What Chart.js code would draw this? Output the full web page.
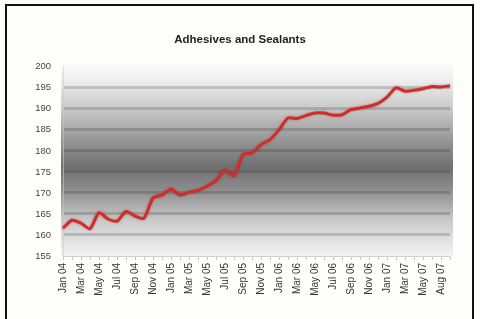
<!DOCTYPE html>
<html>
<head>
<meta charset="utf-8">
<script src="https://cdn.jsdelivr.net/npm/chart.js@4.4.1/dist/chart.umd.min.js"></script>
<style>
  html, body { margin: 0; padding: 0; background: #ffffff; }
  #wrap { position: relative; width: 480px; height: 319px; overflow: hidden; background: #fefefa; }
  #frame { position: absolute; left: 5px; top: 4px; width: 469px; height: 330px; border: 2px solid #111; box-sizing: border-box; pointer-events: none; }
  canvas { position: absolute; left: 0; top: 0; }
</style>
</head>
<body>
<div id="wrap">
  <canvas id="c" width="480" height="319"></canvas>
  <div id="frame"></div>
</div>
<script>
const title = 'Adhesives and Sealants';

const categories = [
  'Jan 04','Feb 04','Mar 04','Apr 04','May 04','Jun 04','Jul 04','Aug 04','Sep 04','Oct 04','Nov 04','Dec 04',
  'Jan 05','Feb 05','Mar 05','Apr 05','May 05','Jun 05','Jul 05','Aug 05','Sep 05','Oct 05','Nov 05','Dec 05',
  'Jan 06','Feb 06','Mar 06','Apr 06','May 06','Jun 06','Jul 06','Aug 06','Sep 06','Oct 06','Nov 06','Dec 06',
  'Jan 07','Feb 07','Mar 07','Apr 07','May 07','Jun 07','Jul 07','Aug 07'
];

const tickLabels = [
  'Jan 04','Mar 04','May 04','Jul 04','Sep 04','Nov 04',
  'Jan 05','Mar 05','May 05','Jul 05','Sep 05','Nov 05',
  'Jan 06','Mar 06','May 06','Jul 06','Sep 06','Nov 06',
  'Jan 07','Mar 07','May 07','Aug 07'
];

const values = [
  161.6, 163.5, 162.8, 161.5, 165.3, 163.8, 163.3, 165.6, 164.5, 164.0,
  168.8, 169.5, 170.9, 169.5, 170.2, 170.6, 171.6, 172.9, 175.4, 174.1,
  179.1, 179.5, 181.5, 182.7, 185.0, 187.8, 187.7, 188.4, 189.0, 189.0,
  188.5, 188.6, 189.8, 190.2, 190.6, 191.3, 192.8, 195.0, 194.2, 194.4,
  194.8, 195.3, 195.2, 195.5
];

const yMin = 155, yMax = 200, yStep = 5;

const plotBg = {
  id: 'plotBg',
  beforeDraw(chart) {
    const {ctx, chartArea: a} = chart;
    const left = a.left - 2, right = a.right + 3;
    const g = ctx.createLinearGradient(0, a.top - 4, 0, a.bottom);
    g.addColorStop(0.00, '#fdfdfb');
    g.addColorStop(0.10, '#ececec');
    g.addColorStop(0.25, '#c6c6c6');
    g.addColorStop(0.42, '#909090');
    g.addColorStop(0.54, '#707070');
    g.addColorStop(0.66, '#8e8e8e');
    g.addColorStop(0.82, '#cbcbcb');
    g.addColorStop(1.00, '#f3f3f3');
    ctx.save();
    ctx.fillStyle = g;
    ctx.fillRect(left, a.top - 4, right - left, a.bottom - a.top + 4);
    ctx.restore();
  },
  beforeDatasetsDraw(chart) {
    const ctx = chart.ctx;
    ctx.save();
    ctx.shadowColor = 'rgba(120,0,0,0.35)';
    ctx.shadowBlur = 3;
  },
  afterDatasetsDraw(chart) {
    chart.ctx.restore();
  }
};

new Chart(document.getElementById('c'), {
  type: 'line',
  data: {
    labels: categories,
    datasets: [{
      data: values,
      borderColor: '#d42a2a',
      borderWidth: 3,
      pointRadius: 0,
      tension: 0.25,
      fill: false
    }]
  },
  options: {
    responsive: false,
    animation: false,
    layout: { padding: { left: 30, right: 30, top: 0, bottom: 0 } },
    plugins: {
      legend: { display: false },
      tooltip: { enabled: false },
      title: {
        display: true,
        text: title,
        color: '#222',
        font: { family: 'Liberation Sans, Arial, sans-serif', size: 11.5, weight: 'bold' },
        padding: { top: 33, bottom: 20 }
      }
    },
    scales: {
      x: {
        offset: false,
        afterFit(s) { s.height = 63; },
        grid: {
          display: true,
          drawOnChartArea: false,
          drawTicks: true,
          tickLength: 4,
          color: '#c8c8c8',
          lineWidth: 1
        },
        border: { display: true, color: '#d0d0d0', width: 1 },
        ticks: {
          autoSkip: false,
          maxRotation: 90,
          minRotation: 90,
          padding: 3,
          color: '#333',
          font: { family: 'Liberation Sans, Arial, sans-serif', size: 10 },
          callback(v, i) { return i % 2 === 0 ? tickLabels[i / 2] : ''; }
        }
      },
      y: {
        min: yMin,
        max: yMax,
        afterFit(s) { s.width = 33; },
        grid: {
          drawTicks: false,
          lineWidth: 3,
          color(c) {
            const v = c.tick && c.tick.value;
            if (v === yMin || v === yMax) return 'rgba(0,0,0,0)';
            return 'rgba(40,40,40,0.2)';
          }
        },
        border: { display: true, color: 'rgba(200,200,200,0.6)', width: 1 },
        ticks: {
          stepSize: yStep,
          padding: 12,
          color: '#444',
          font: { family: 'Liberation Sans, Arial, sans-serif', size: 9.5 }
        }
      }
    }
  },
  plugins: [plotBg]
});
</script>
</body>
</html>
